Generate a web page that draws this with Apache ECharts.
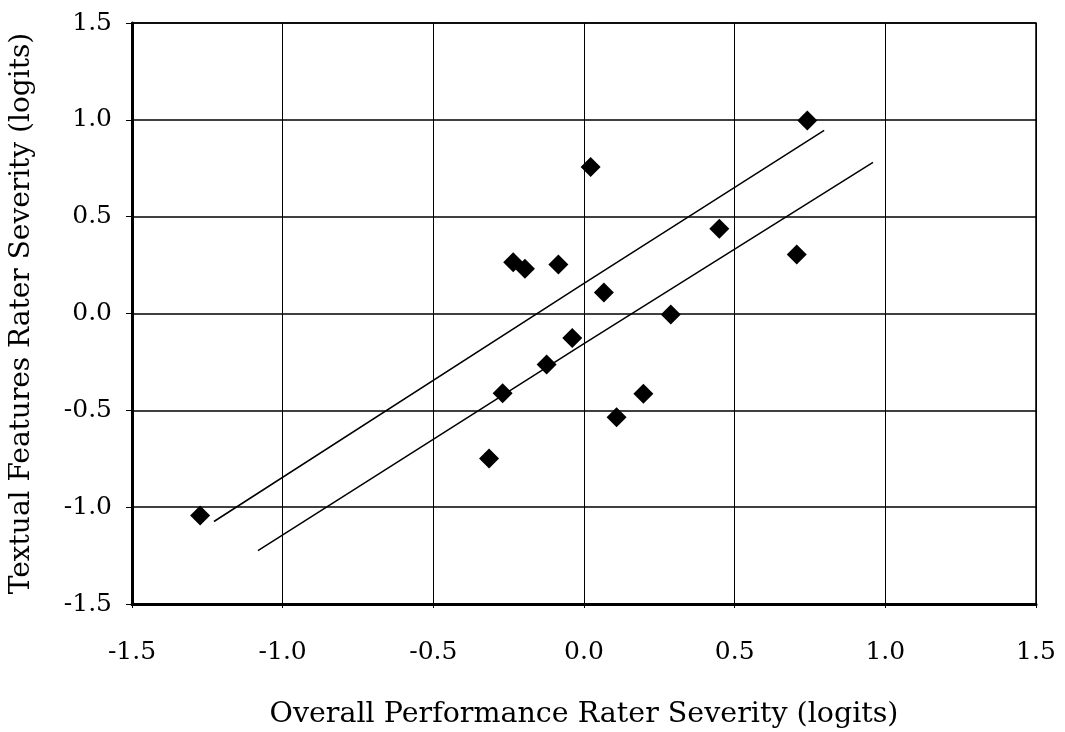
<!DOCTYPE html>
<html>
<head>
<meta charset="utf-8">
<script src="https://cdn.jsdelivr.net/npm/echarts@6/dist/echarts.min.js"></script>
<style>html,body{margin:0;padding:0;background:#fff}#c{width:1065px;height:732px}</style>
</head>
<body>
<div id="c"></div>
<script>
const xTitle = 'Overall Performance Rater Severity (logits)';
const yTitle = 'Textual Features Rater Severity (logits)';
const xValues = [-1.274, -0.315, -0.270, -0.235, -0.196, -0.124, -0.085, -0.039, 0.022, 0.066, 0.108, 0.197, 0.288, 0.449, 0.706, 0.741];
const yValues = [-1.043, -0.749, -0.412, 0.265, 0.231, -0.263, 0.253, -0.126, 0.756, 0.108, -0.536, -0.415, -0.005, 0.437, 0.305, 0.997];
const upperLine = [[-1.228, -1.074], [0.0, 0.155], [0.797, 0.945]];
const lowerLine = [[-1.082, -1.224], [0.0, -0.155], [0.959, 0.780]];

const FONT = 'DejaVu Serif';
const chart = echarts.init(document.getElementById('c'));
chart.setOption({
  backgroundColor: '#fff',
  animation: false,
  grid: {left: 132, right: 29, top: 23, bottom: 128, show: true, borderColor: '#000', borderWidth: 1.5, outerBoundsMode: 'none', containLabel: false},
  xAxis: {
    type: 'value', min: -1.5, max: 1.5, interval: 0.5,
    name: xTitle, nameLocation: 'middle', nameGap: 96,
    nameTextStyle: {fontFamily: FONT, fontSize: 28.5, color: '#000'},
    axisLine: {show: true, onZero: false, lineStyle: {color: '#000', width: 3}},
    axisTick: {show: true, length: 4, lineStyle: {color: '#000'}},
    axisLabel: {fontFamily: FONT, fontSize: 25, color: '#000', margin: 36, formatter: v => v.toFixed(1)},
    splitLine: {show: true, lineStyle: {color: '#000', width: 1}}
  },
  yAxis: {
    type: 'value', min: -1.5, max: 1.5, interval: 0.5,
    name: yTitle, nameLocation: 'middle', nameGap: 96,
    nameTextStyle: {fontFamily: FONT, fontSize: 28, color: '#000'},
    axisLine: {show: true, onZero: false, lineStyle: {color: '#000', width: 3}},
    axisTick: {show: true, length: 6, lineStyle: {color: '#000'}},
    axisLabel: {fontFamily: FONT, fontSize: 25, color: '#000', margin: 20, formatter: v => v.toFixed(1)},
    splitLine: {show: true, lineStyle: {color: '#000', width: 1.5}}
  },
  series: [
    {type: 'line', data: upperLine, showSymbol: false, smooth: false, lineStyle: {color: '#000', width: 1.5}, z: 2},
    {type: 'line', data: lowerLine, showSymbol: false, smooth: false, lineStyle: {color: '#000', width: 1.5}, z: 2},
    {type: 'scatter', data: xValues.map((x, i) => [x, yValues[i]]), symbol: 'diamond', symbolSize: [20, 20], itemStyle: {color: '#000', opacity: 1}, z: 3}
  ]
});
</script>
</body>
</html>
